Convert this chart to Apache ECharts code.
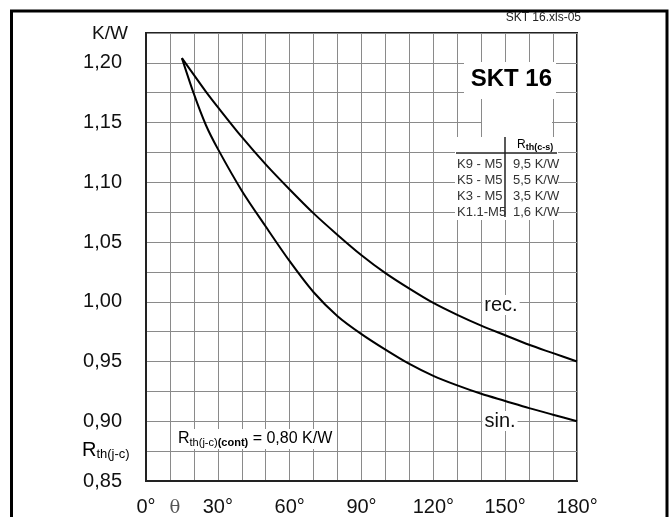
<!doctype html>
<html>
<head>
<meta charset="utf-8">
<title>SKT 16</title>
<script src="https://cdn.jsdelivr.net/npm/echarts@6/dist/echarts.min.js"></script>
<style>
  html, body { margin: 0; padding: 0; background: #fff; }
  #main { width: 670px; height: 517px; }
</style>
</head>
<body>
<div id="main"></div>
<script>
// conduction angle (deg) and thermal resistance Rth(j-c) in K/W
var angles = [15, 20, 25, 30, 40, 50, 60, 70, 80, 90, 100, 110, 120, 130, 140, 150, 160, 170, 180];
var rthRec = [1.204, 1.190, 1.176, 1.163, 1.138, 1.115, 1.094, 1.074, 1.056, 1.039, 1.024, 1.011, 0.999, 0.989, 0.980, 0.972, 0.964, 0.957, 0.950];
var rthSin = [1.204, 1.174, 1.148, 1.128, 1.093, 1.063, 1.034, 1.008, 0.988, 0.973, 0.960, 0.948, 0.938, 0.930, 0.923, 0.917, 0.911, 0.9055, 0.900];

// tick labels
var xLabelDegrees = [0, 30, 60, 90, 120, 150, 180];
var yLabelValues = [0.85, 0.90, 0.95, 1.00, 1.05, 1.10, 1.15, 1.20];

// heatsink table
var heatsinks = ['K9 - M5', 'K5 - M5', 'K3 - M5', 'K1.1-M5'];
var rthCS = ['9,5 K/W', '5,5 K/W', '3,5 K/W', '1,6 K/W'];

function pairs(xs, ys) {
    return xs.map(function (x, i) { return [x, ys[i]]; });
}

var FONT = 'Liberation Sans, Arial, sans-serif';
var chart = echarts.init(document.getElementById('main'), null, { renderer: 'canvas' });

var graphics = [
    // outer frame
    { type: 'rect', z: 200, shape: { x: 11.5, y: 11, width: 655.5, height: 530 },
      style: { fill: null, stroke: '#000', lineWidth: 3 } },
    { type: 'text', z: 200, x: 581, y: 18,
      style: { text: 'SKT 16.xls-05', font: '12px ' + FONT, fill: '#222', textAlign: 'right', textVerticalAlign: 'middle' } },
    // axis titles
    { type: 'text', z: 200, x: 128, y: 34,
      style: { text: 'K/W', font: '19px ' + FONT, fill: '#111', textAlign: 'right', textVerticalAlign: 'middle' } },
    { type: 'text', z: 200, x: 82, y: 450,
      style: { text: '{r|R}{s|th(j-c)}', textVerticalAlign: 'middle',
        rich: { r: { fontSize: 20, fontFamily: FONT, color: '#111' },
                s: { fontSize: 13, fontFamily: FONT, color: '#111', padding: [8, 0, 0, 0] } } } },
    { type: 'text', z: 200, x: 175, y: 508,
      style: { text: 'θ', font: '18px DejaVu Serif, serif', fill: '#555', textAlign: 'center', textVerticalAlign: 'middle' } },
    // title box
    { type: 'rect', z: 100, shape: { x: 464, y: 62, width: 92, height: 37 }, style: { fill: '#fff' } },
    { type: 'rect', z: 100, shape: { x: 482, y: 99, width: 70, height: 38 }, style: { fill: '#fff' } },
    { type: 'text', z: 110, x: 552, y: 79,
      style: { text: 'SKT 16', font: 'bold 24px ' + FONT, fill: '#000', textAlign: 'right', textVerticalAlign: 'middle' } },
    // table
    { type: 'rect', z: 100, shape: { x: 455, y: 137, width: 103, height: 83 }, style: { fill: '#fff' } },
    { type: 'line', z: 110, shape: { x1: 456, y1: 153, x2: 557, y2: 153 }, style: { stroke: '#222', lineWidth: 1.5 } },
    { type: 'line', z: 110, shape: { x1: 505, y1: 137, x2: 505, y2: 217 }, style: { stroke: '#222', lineWidth: 1.5 } },
    { type: 'text', z: 110, x: 517, y: 145,
      style: { text: '{r|R}{s|th(c-s)}', textVerticalAlign: 'middle',
        rich: { r: { fontSize: 12, fontFamily: FONT, color: '#222' },
                s: { fontSize: 9, fontWeight: 'bold', fontFamily: FONT, color: '#222', padding: [5, 0, 0, 0] } } } },
    // curve labels
    { type: 'text', z: 110, x: 501, y: 305,
      style: { text: 'rec.', font: '20px ' + FONT, fill: '#111', textAlign: 'center', textVerticalAlign: 'middle',
               backgroundColor: '#fff', padding: [0, 2] } },
    { type: 'text', z: 110, x: 500, y: 421,
      style: { text: 'sin.', font: '20px ' + FONT, fill: '#111', textAlign: 'center', textVerticalAlign: 'middle',
               backgroundColor: '#fff', padding: [0, 2] } },
    { type: 'text', z: 110, x: 176, y: 439,
      style: { text: '{r|R}{s|th(j-c)}{b|(cont)}{r| = 0,80 K/W}', textVerticalAlign: 'middle',
               backgroundColor: '#fff', padding: [1, 2],
        rich: { r: { fontSize: 16, fontFamily: FONT, color: '#111' },
                s: { fontSize: 11, fontFamily: FONT, color: '#111', padding: [7, 0, 0, 0] },
                b: { fontSize: 11, fontWeight: 'bold', fontFamily: FONT, color: '#111', padding: [7, 0, 0, 0] } } } }
];

heatsinks.forEach(function (name, i) {
    var y = 164 + i * 16;
    graphics.push({ type: 'text', z: 110, x: 457, y: y,
        style: { text: name, font: '13px ' + FONT, fill: '#333', textVerticalAlign: 'middle' } });
    graphics.push({ type: 'text', z: 110, x: 513, y: y,
        style: { text: rthCS[i], font: '13px ' + FONT, fill: '#333', textVerticalAlign: 'middle' } });
});

chart.setOption({
    animation: false,
    backgroundColor: '#fff',
    grid: {
        left: 146, top: 33, width: 431, height: 448,
        outerBoundsMode: 'none',
        show: true, borderColor: '#222', borderWidth: 2, backgroundColor: '#fff'
    },
    xAxis: {
        type: 'value', min: 0, max: 180, interval: 10,
        axisLine: { show: true, onZero: false, lineStyle: { color: '#222', width: 2 } },
        axisTick: { show: false },
        splitLine: { show: true, lineStyle: { color: '#8a8a8a', width: 1 } },
        axisLabel: {
            margin: 16, fontSize: 20, fontFamily: FONT, color: '#111',
            showMinLabel: true, showMaxLabel: true, hideOverlap: false,
            formatter: function (v) {
                return xLabelDegrees.indexOf(Math.round(v)) >= 0 ? Math.round(v) + '°' : '';
            }
        }
    },
    yAxis: {
        type: 'value', min: 0.85, max: 1.225, interval: 0.025,
        axisLine: { show: true, onZero: false, lineStyle: { color: '#222', width: 2 } },
        axisTick: { show: false },
        splitLine: { show: true, lineStyle: { color: '#8a8a8a', width: 1 } },
        axisLabel: {
            margin: 24, fontSize: 20, fontFamily: FONT, color: '#111',
            showMinLabel: true, showMaxLabel: true, hideOverlap: false,
            formatter: function (v) {
                var hit = yLabelValues.some(function (t) { return Math.abs(t - v) < 1e-6; });
                return hit ? v.toFixed(2).replace('.', ',') : '';
            }
        }
    },
    series: [
        {
            name: 'rec.', type: 'line', data: pairs(angles, rthRec),
            smooth: 0.3, showSymbol: false,
            lineStyle: { color: '#000', width: 2 }, z: 5
        },
        {
            name: 'sin.', type: 'line', data: pairs(angles, rthSin),
            smooth: 0.3, showSymbol: false,
            lineStyle: { color: '#000', width: 2 }, z: 5
        }
    ],
    graphic: { elements: graphics }
});
</script>
</body>
</html>
